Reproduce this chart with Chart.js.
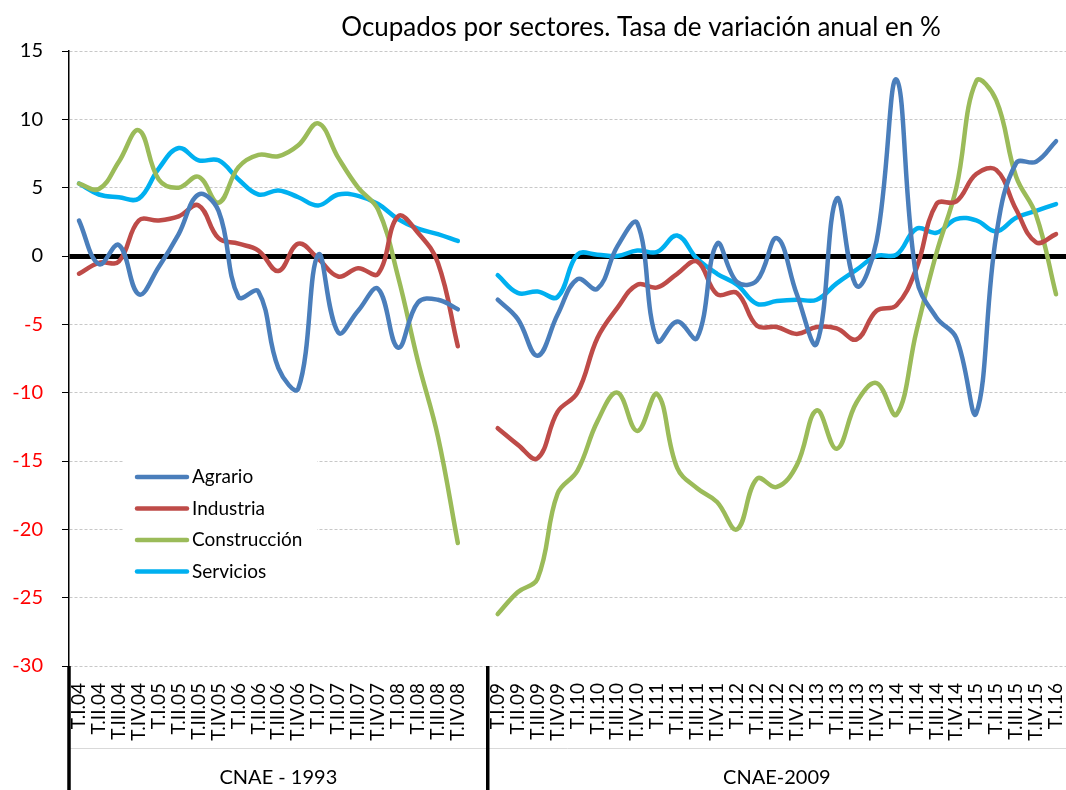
<!DOCTYPE html>
<html lang="es">
<head>
<meta charset="utf-8">
<title>Ocupados por sectores</title>
<script src="https://cdn.jsdelivr.net/npm/chart.js@4.4.1/dist/chart.umd.min.js"></script>
<style>
  html, body { margin: 0; padding: 0; background: #fff; }
  #wrap { position: relative; width: 1066px; height: 790px; }
</style>
</head>
<body>
<div id="wrap"><canvas id="grafico"></canvas></div>
<script>
const trimestres = [
  'T.I.04', 'T.II.04', 'T.III.04', 'T.IV.04', 'T.I.05', 'T.II.05', 'T.III.05', 'T.IV.05',
  'T.I.06', 'T.II.06', 'T.III.06', 'T.IV.06', 'T.I.07', 'T.II.07', 'T.III.07', 'T.IV.07',
  'T.I.08', 'T.II.08', 'T.III.08', 'T.IV.08', '',
  'T.I.09', 'T.II.09', 'T.III.09', 'T.IV.09', 'T.I.10', 'T.II.10', 'T.III.10', 'T.IV.10',
  'T.I.11', 'T.II.11', 'T.III.11', 'T.IV.11', 'T.I.12', 'T.II.12', 'T.III.12', 'T.IV.12',
  'T.I.13', 'T.II.13', 'T.III.13', 'T.IV.13', 'T.I.14', 'T.II.14', 'T.III.14', 'T.IV.14',
  'T.I.15', 'T.II.15', 'T.III.15', 'T.IV.15', 'T.I.16'
];

// null = hueco entre CNAE-1993 y CNAE-2009
const agrario = [
  2.6, -0.6, 0.8, -2.8, -0.8, 1.6, 4.5, 3.3, -3.0, -2.6, -8.2, -9.7, 0.1, -5.6, -4.0, -2.4,
  -6.7, -3.4, -3.2, -3.9, null,
  -3.2, -4.6, -7.3, -4.3, -1.7, -2.4, 0.7, 2.4, -6.2, -4.8, -6.0, 0.9, -1.9, -1.8, 1.3,
  -2.8, -6.4, 4.2, -2.2, 1.1, 12.9, -1.6, -4.5, -6.0, -11.5, 1.5, 6.8, 6.9, 8.4
];
const industria = [
  -1.3, -0.5, -0.4, 2.6, 2.6, 2.9, 3.7, 1.3, 0.9, 0.4, -1.1, 0.9, -0.2, -1.5, -0.9, -1.3,
  2.9, 1.7, -0.5, -6.6, null,
  -12.6, -13.8, -14.8, -11.4, -10.0, -6.0, -3.8, -2.1, -2.3, -1.3, -0.4, -2.8, -2.7, -5.1, -5.2,
  -5.7, -5.2, -5.3, -6.1, -4.0, -3.6, -0.9, 3.8, 4.0, 6.0, 6.3, 3.4, 1.0, 1.6
];
const construccion = [
  5.3, 4.9, 6.9, 9.2, 5.6, 5.0, 5.8, 3.9, 6.5, 7.4, 7.3, 8.1, 9.7, 7.2, 5.0, 3.4,
  -1.5, -7.7, -13.2, -21.0, null,
  -26.2, -24.6, -23.6, -17.4, -15.7, -12.1, -10.0, -12.8, -10.1, -15.5, -17.0, -18.0, -20.0, -16.3, -16.9,
  -15.3, -11.3, -14.1, -10.7, -9.3, -11.6, -5.5, 0.2, 5.0, 12.8, 11.4, 5.8, 3.0, -2.8
];
const servicios = [
  5.3, 4.5, 4.3, 4.2, 6.4, 7.9, 7.0, 7.0, 5.6, 4.5, 4.8, 4.3, 3.7, 4.5, 4.4, 3.8,
  2.7, 2.0, 1.6, 1.1, null,
  -1.4, -2.7, -2.6, -3.0, 0.1, 0.1, 0.0, 0.4, 0.3, 1.5, -0.2, -1.3, -2.1, -3.5, -3.3,
  -3.2, -3.2, -2.0, -1.0, 0.0, 0.1, 2.0, 1.7, 2.7, 2.6, 1.8, 2.8, 3.3, 3.8
];

const titulo = 'Ocupados por sectores. Tasa de variación anual en %';
const grupos = ['CNAE - 1993', 'CNAE-2009'];
const inicioGrupo = [0, 21];

const fuente = 'Lato, "Open Sans", sans-serif';

function serie(nombre, datos, color) {
  return {
    label: nombre,
    data: datos,
    borderColor: color,
    backgroundColor: color,
    borderWidth: 4.5,
    pointRadius: 0,
    tension: 0.4,
    spanGaps: false,
    borderCapStyle: 'round',
    borderJoinStyle: 'round'
  };
}

// título, leyenda dentro del gráfico y rótulos de grupo del eje X
const extras = {
  id: 'extras',
  afterDraw(chart) {
    const { ctx, chartArea: area, scales: { x } } = chart;
    ctx.save();

    ctx.fillStyle = '#000';
    ctx.font = '26px ' + fuente;
    ctx.textAlign = 'center';
    ctx.textBaseline = 'middle';
    ctx.fillText(titulo, 641, 28);

    const limites = inicioGrupo.map(i =>
      i === 0 ? area.left : (x.getPixelForValue(i - 1) + x.getPixelForValue(i)) / 2);
    limites.push(area.right);

    ctx.strokeStyle = '#d9d9d9';
    ctx.lineWidth = 1;
    ctx.beginPath();
    ctx.moveTo(area.left, 748.5);
    ctx.lineTo(area.right, 748.5);
    ctx.stroke();

    ctx.strokeStyle = '#000';
    ctx.lineWidth = 3.5;
    limites.slice(0, -1).forEach(px => {
      ctx.beginPath();
      ctx.moveTo(px, area.bottom);
      ctx.lineTo(px, chart.height);
      ctx.stroke();
    });

    ctx.font = '20px ' + fuente;
    grupos.forEach((g, k) => {
      ctx.fillText(g, (limites[k] + limites[k + 1]) / 2, 778);
    });

    // leyenda
    ctx.fillStyle = '#fff';
    ctx.fillRect(123, 459, 194, 127);
    ctx.font = '19px ' + fuente;
    ctx.textAlign = 'left';
    ctx.lineCap = 'round';
    chart.data.datasets.forEach((ds, k) => {
      const yy = 477 + k * 31.5;
      ctx.strokeStyle = ds.borderColor;
      ctx.lineWidth = 4.5;
      ctx.beginPath();
      ctx.moveTo(137, yy);
      ctx.lineTo(187, yy);
      ctx.stroke();
      ctx.fillStyle = '#000';
      ctx.fillText(ds.label, 192, yy);
    });
    ctx.restore();
  }
};

new Chart(document.getElementById('grafico'), {
  type: 'line',
  data: {
    labels: trimestres,
    datasets: [
      serie('Agrario', agrario, '#4A7EBB'),
      serie('Industria', industria, '#BE4B48'),
      serie('Construcción', construccion, '#9BBB59'),
      serie('Servicios', servicios, '#00B0F0')
    ]
  },
  options: {
    responsive: true,
    maintainAspectRatio: false,
    animation: false,
    layout: { padding: { top: 51, left: 0, right: 0, bottom: 0 } },
    plugins: {
      legend: { display: false },
      title: { display: false },
      tooltip: { enabled: false }
    },
    scales: {
      x: {
        offset: true,
        afterFit(s) {
          s.height = 124;
          s.paddingLeft = 0;
          s.paddingRight = 0;
        },
        grid: { display: false, drawTicks: false, offset: true },
        border: { display: false },
        ticks: {
          autoSkip: false,
          minRotation: 90,
          maxRotation: 90,
          padding: 17,
          color: '#000',
          font: { family: fuente, size: 19 }
        }
      },
      y: {
        min: -30,
        max: 15,
        afterFit(s) { s.width = 69; },
        ticks: {
          stepSize: 5,
          padding: 19,
          color: c => c.tick.value < 0 ? '#ff0000' : '#000',
          font: { family: fuente, size: 20 }
        },
        grid: {
          color: c => c.tick && c.tick.value === 0 ? '#000' : '#c8c8c8',
          lineWidth: c => c.tick && c.tick.value === 0 ? 5 : 1,
          tickLength: 7,
          tickColor: '#000',
          tickWidth: 1,
          tickBorderDash: []
        },
        border: {
          color: '#000',
          width: 1.5,
          dash: c => c.tick && c.tick.value === 0 ? [] : [3, 2]
        }
      }
    }
  },
  plugins: [extras]
});
</script>
</body>
</html>
